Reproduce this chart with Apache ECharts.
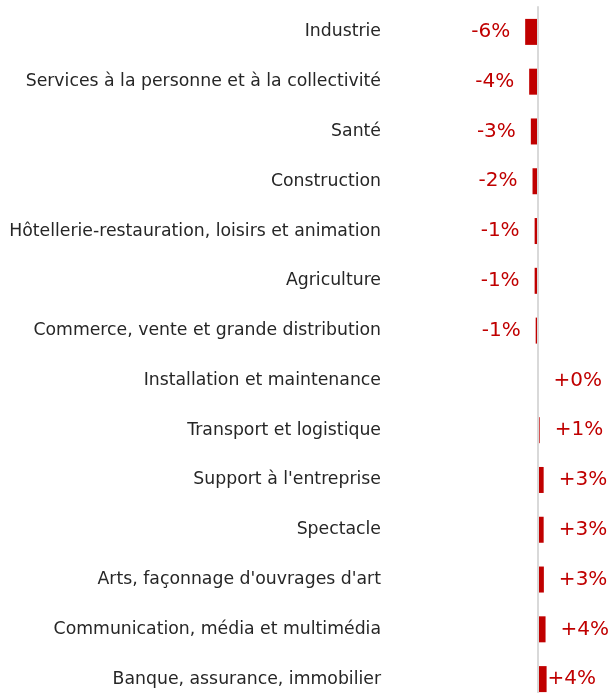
<!DOCTYPE html>
<html>
<head>
<meta charset="utf-8">
<script src="https://cdn.jsdelivr.net/npm/echarts@6/dist/echarts.min.js"></script>
<style>
html,body{margin:0;padding:0;background:#fff;}
#chart{width:608px;height:693px;}
</style>
</head>
<body>
<div id="chart"></div>
<script>
const categories = [
  "Industrie",
  "Services à la personne et à la collectivité",
  "Santé",
  "Construction",
  "Hôtellerie-restauration, loisirs et animation",
  "Agriculture",
  "Commerce, vente et grande distribution",
  "Installation et maintenance",
  "Transport et logistique",
  "Support à l'entreprise",
  "Spectacle",
  "Arts, façonnage d'ouvrages d'art",
  "Communication, média et multimédia",
  "Banque, assurance, immobilier"
];
const values = [-5.9, -4.0, -3.2, -2.4, -1.4, -1.4, -0.9, 0.4, 1.0, 2.9, 2.9, 3.0, 3.8, 4.3];
const valueLabels = ["-6%", "-4%", "-3%", "-2%", "-1%", "-1%", "-1%", "+0%", "+1%", "+3%", "+3%", "+3%", "+4%", "+4%"];

const chart = echarts.init(document.getElementById('chart'), null, {renderer: 'canvas'});
const data = values.map((v, i) => ({
  value: v,
  label: {
    position: v < 0 ? 'left' : 'right',
    distance: i === values.length - 1 ? 1 : 15,
    formatter: valueLabels[i]
  }
}));
chart.setOption({
  animation: false,
  grid: {left: 401, right: -1, top: 7, bottom: -11, containLabel: false, outerBoundsMode: 'none'},
  xAxis: {
    type: 'value', min: -65, max: 34, show: false
  },
  yAxis: {
    type: 'category', data: categories, inverse: true, z: 3,
    axisLine: {show: true, onZero: true, lineStyle: {color: '#d9d9d9', width: 2}},
    axisTick: {show: false},
    axisLabel: {margin: 20, fontFamily: 'DejaVu Sans', fontSize: 17.3, color: '#262626'}
  },
  series: [{
    type: 'bar',
    data: data,
    barWidth: 26,
    itemStyle: {color: '#c00000'},
    label: {show: true, fontFamily: 'DejaVu Sans', fontSize: 20, color: '#c00000'}
  }]
});
</script>
</body>
</html>
